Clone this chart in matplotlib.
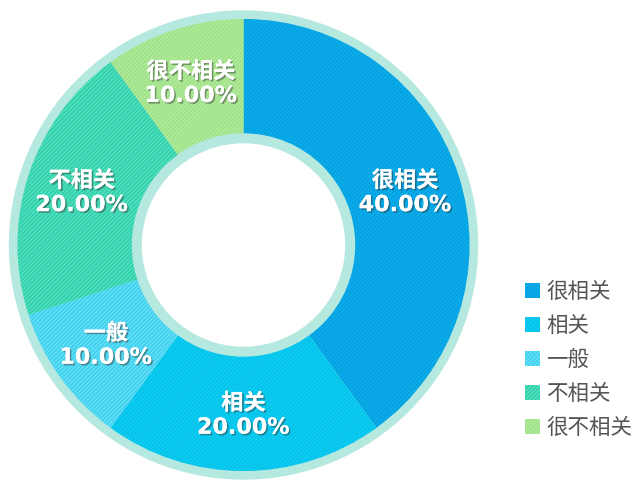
import matplotlib
matplotlib.use("Agg")
import numpy as np
import matplotlib.pyplot as plt
import matplotlib.patheffects as pe
from matplotlib.patches import Circle

plt.rcParams['font.family'] = ['Noto Sans CJK SC', 'DejaVu Sans']
plt.rcParams['hatch.linewidth'] = 0.6

# data
cats = ['很相关', '相关', '一般', '不相关', '很不相关']
vals = [40, 20, 10, 20, 10]
cols = ['#00a3e3', '#00c4ec', '#3fd2f0', '#2fd3ad', '#9ee387']
hcols = ['#1fb0ea', '#22cff2', '#7ee4f6', '#6ee2c6', '#c0ecab']

fig = plt.figure(figsize=(6.38, 4.8), dpi=100)
ax = fig.add_axes([0, 0, 1, 1])

cx, cy = 243.5, 235
r_out, r_in = 226, 111

# light ring behind
ax.add_patch(Circle((cx, cy), 234, color='#b5e9e0', zorder=0))

wedges, _ = ax.pie(vals, center=(cx, cy), radius=r_out, startangle=90,
                   counterclock=False, colors=cols,
                   wedgeprops=dict(width=r_out - r_in, linewidth=0),
                   frame=True)
for w, hc in zip(wedges, hcols):
    w.set_hatch('////////')
    w.set_edgecolor(hc)
    w.set_linewidth(0)
    w.set_zorder(1)

ax.add_patch(Circle((cx, cy), r_in, color='#b5e9e0', zorder=2))
ax.add_patch(Circle((cx, cy), 101, color='white', zorder=3))
ax.set_xlim(0, 638)
ax.set_ylim(0, 480)
ax.set_aspect('equal')
ax.axis('off')

tot = sum(vals)
ang = 90
shadow = [pe.withSimplePatchShadow(offset=(1.2, -1.2), shadow_rgbFace='#333333', alpha=0.45), pe.Normal()]
for c, v in zip(cats, vals):
    a1 = ang - v / tot * 360
    mid = np.deg2rad((ang + a1) / 2)
    ang = a1
    rl = 170
    x = cx + rl * np.cos(mid)
    y = cy + rl * np.sin(mid)
    ax.text(x, y, f'{c}\n{v / tot * 100:.2f}%', ha='center', va='center',
            color='white', fontsize=16, fontweight='bold', linespacing=1.25,
            family=['DejaVu Sans', 'Noto Sans CJK SC'],
            path_effects=shadow, zorder=5)

leg = ax.legend(wedges, cats, loc='upper left', bbox_to_anchor=(525 / 638, 1 - 281 / 480),
                frameon=False, fontsize=15.5, labelcolor='#555555',
                handlelength=0.7, handleheight=0.7, handletextpad=0.3,
                labelspacing=0.56, borderaxespad=0, borderpad=0)

fig.savefig('out.png', dpi=100)
